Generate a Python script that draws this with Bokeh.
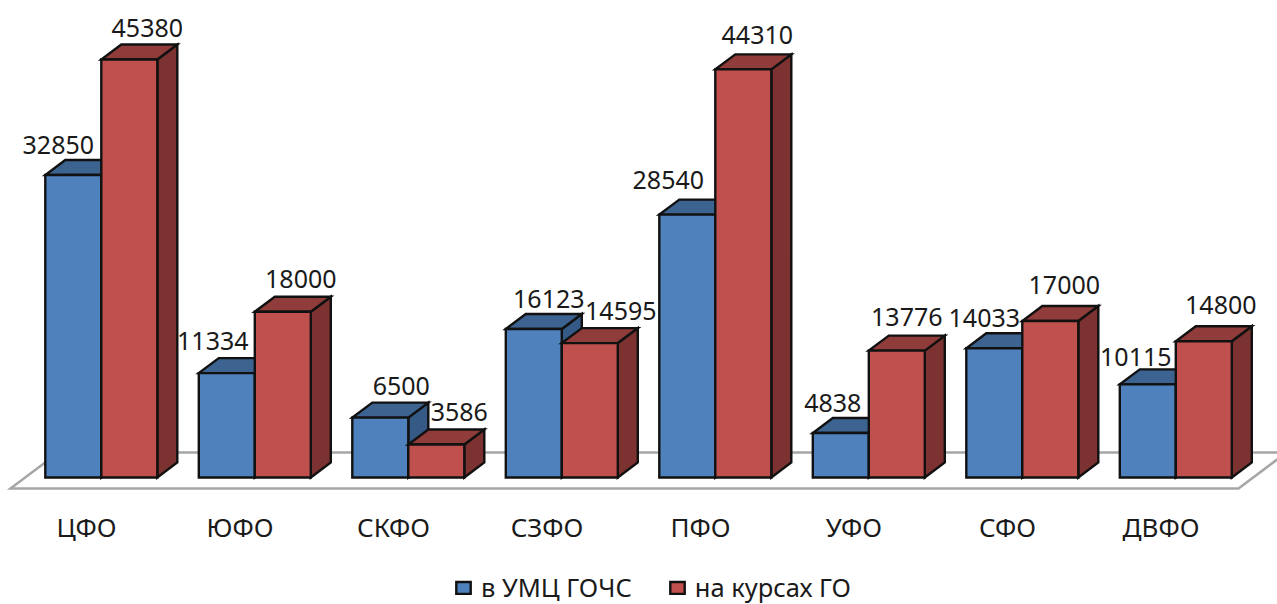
from bokeh.embed import file_html
from bokeh.resources import INLINE
from bokeh.plotting import figure
from bokeh.models import ColumnDataSource, FixedTicker, Legend, LegendItem, Range1d
from bokeh.core.properties import value

categories = ["ЦФО", "ЮФО", "СКФО", "СЗФО", "ПФО", "УФО", "СФО", "ДВФО"]
umc_gochs = [32850, 11334, 6500, 16123, 28540, 4838, 14033, 10115]
kursy_go = [45380, 18000, 3586, 14595, 44310, 13776, 17000, 14800]
series_names = ["в УМЦ ГОЧС", "на курсах ГО"]

# label offsets in screen pixels from the top centre of each bar
umc_dx = [-15, -14, 21, 15, -19, -8, -10, -12]
umc_dy = [-29.5, -32.6, -32, -30.5, -35, -30.4, -29.8, -27.8]
go_dx = [18, 18, 23, 31, 14, 10, 14, 17]
go_dy = [-32, -33, -32, -31.6, -34, -34, -36, -35.7]

W, H = 1277, 604
STEP = 153.5            # px per category
PX_PER_UNIT = 0.00921   # px per value unit
BASE_PX, ORIGIN_PX = 477, 86
AXIS_PX = 500
BAR = 56 / STEP
SHIFT = 14.8 / STEP     # bars sit right of the tick by half the depth
DX = 20 / STEP
DY = 15 / PX_PER_UNIT
FONT = value("Noto Sans")
LBL = "25px"

p = figure(width=W, height=H, output_backend="svg", toolbar_location=None,
           min_border=0, min_border_left=0, min_border_right=0, min_border_top=0,
           min_border_bottom=0, outline_line_color=None,
           border_fill_color=None, background_fill_color=None,
           styles={"position": "absolute", "left": "0px", "top": "0px"},
           x_range=Range1d(-ORIGIN_PX / STEP, (W - ORIGIN_PX) / STEP),
           y_range=Range1d(-(H - BASE_PX) / PX_PER_UNIT, BASE_PX / PX_PER_UNIT))
p.grid.visible = False
p.yaxis.visible = False
ax = p.xaxis[0]
ax.fixed_location = -(AXIS_PX - BASE_PX) / PX_PER_UNIT
ax.ticker = FixedTicker(ticks=list(range(len(categories))))
ax.major_label_overrides = {i: c for i, c in enumerate(categories)}
ax.axis_line_color = None
ax.major_tick_line_color = None
ax.minor_tick_line_color = None
ax.major_label_text_font = "Noto Sans"
ax.major_label_text_font_size = "26px"
ax.major_label_text_color = "#1a1a1a"
ax.major_label_standoff = 2

# floor of the 3-D chart
fl_h = 11 / PX_PER_UNIT
fl_top = 25 / PX_PER_UNIT
fl_x0 = (10 - ORIGIN_PX) / STEP
fl_x1 = (1238 - ORIGIN_PX) / STEP
fl_dx = 48 / STEP
p.patch([fl_x0, fl_x1, fl_x1 + fl_dx, fl_x0 + fl_dx], [-fl_h, -fl_h, fl_top, fl_top],
        fill_color="white", line_color="#A6A6A6", line_width=2.5, line_join="miter")


def draw_series(vals, sign, front, top, side, dxs, dys):
    xl = [i + SHIFT + sign * BAR for i in range(len(vals))]
    xr = [x + BAR for x in xl]
    style = dict(line_color="#111111", line_width=2.4, line_join="miter")
    p.patches([[r, r + DX, r + DX, r] for r in xr],
              [[0, DY, v + DY, v] for v in vals], fill_color=side, **style)
    p.patches([[l, r, r + DX, l + DX] for l, r in zip(xl, xr)],
              [[v, v, v + DY, v + DY] for v in vals], fill_color=top, **style)
    rend = p.quad(left=xl, right=xr, bottom=0, top=vals, fill_color=front, **style)
    src = ColumnDataSource(dict(x=[(l + r) / 2 for l, r in zip(xl, xr)], y=vals,
                                t=[str(v) for v in vals], dx=dxs, dy=dys))
    return rend, src


r1, s1 = draw_series(umc_gochs, -1, "#4F81BD", "#3D6390", "#355A85", umc_dx, umc_dy)
r2, s2 = draw_series(kursy_go, 0, "#C0504D", "#8F3C3A", "#7B3230", go_dx, go_dy)
for s in (s1, s2):
    p.text("x", "y", text="t", x_offset="dx", y_offset="dy", source=s, text_align="center",
           text_baseline="middle", text_font=FONT, text_font_size=LBL, text_color="#1a1a1a")

legend = Legend(items=[LegendItem(label=series_names[0], renderers=[r1]),
                       LegendItem(label=series_names[1], renderers=[r2])],
                orientation="horizontal", location=(454, 0),
                background_fill_alpha=0, border_line_color=None, padding=0, margin=0,
                glyph_width=18, glyph_height=15, label_standoff=9, spacing=36,
                label_text_font="Noto Sans", label_text_font_size="25.5px",
                label_text_color="#1a1a1a")
p.add_layout(legend)

open("out.html", "w").write(file_html(p, INLINE))
